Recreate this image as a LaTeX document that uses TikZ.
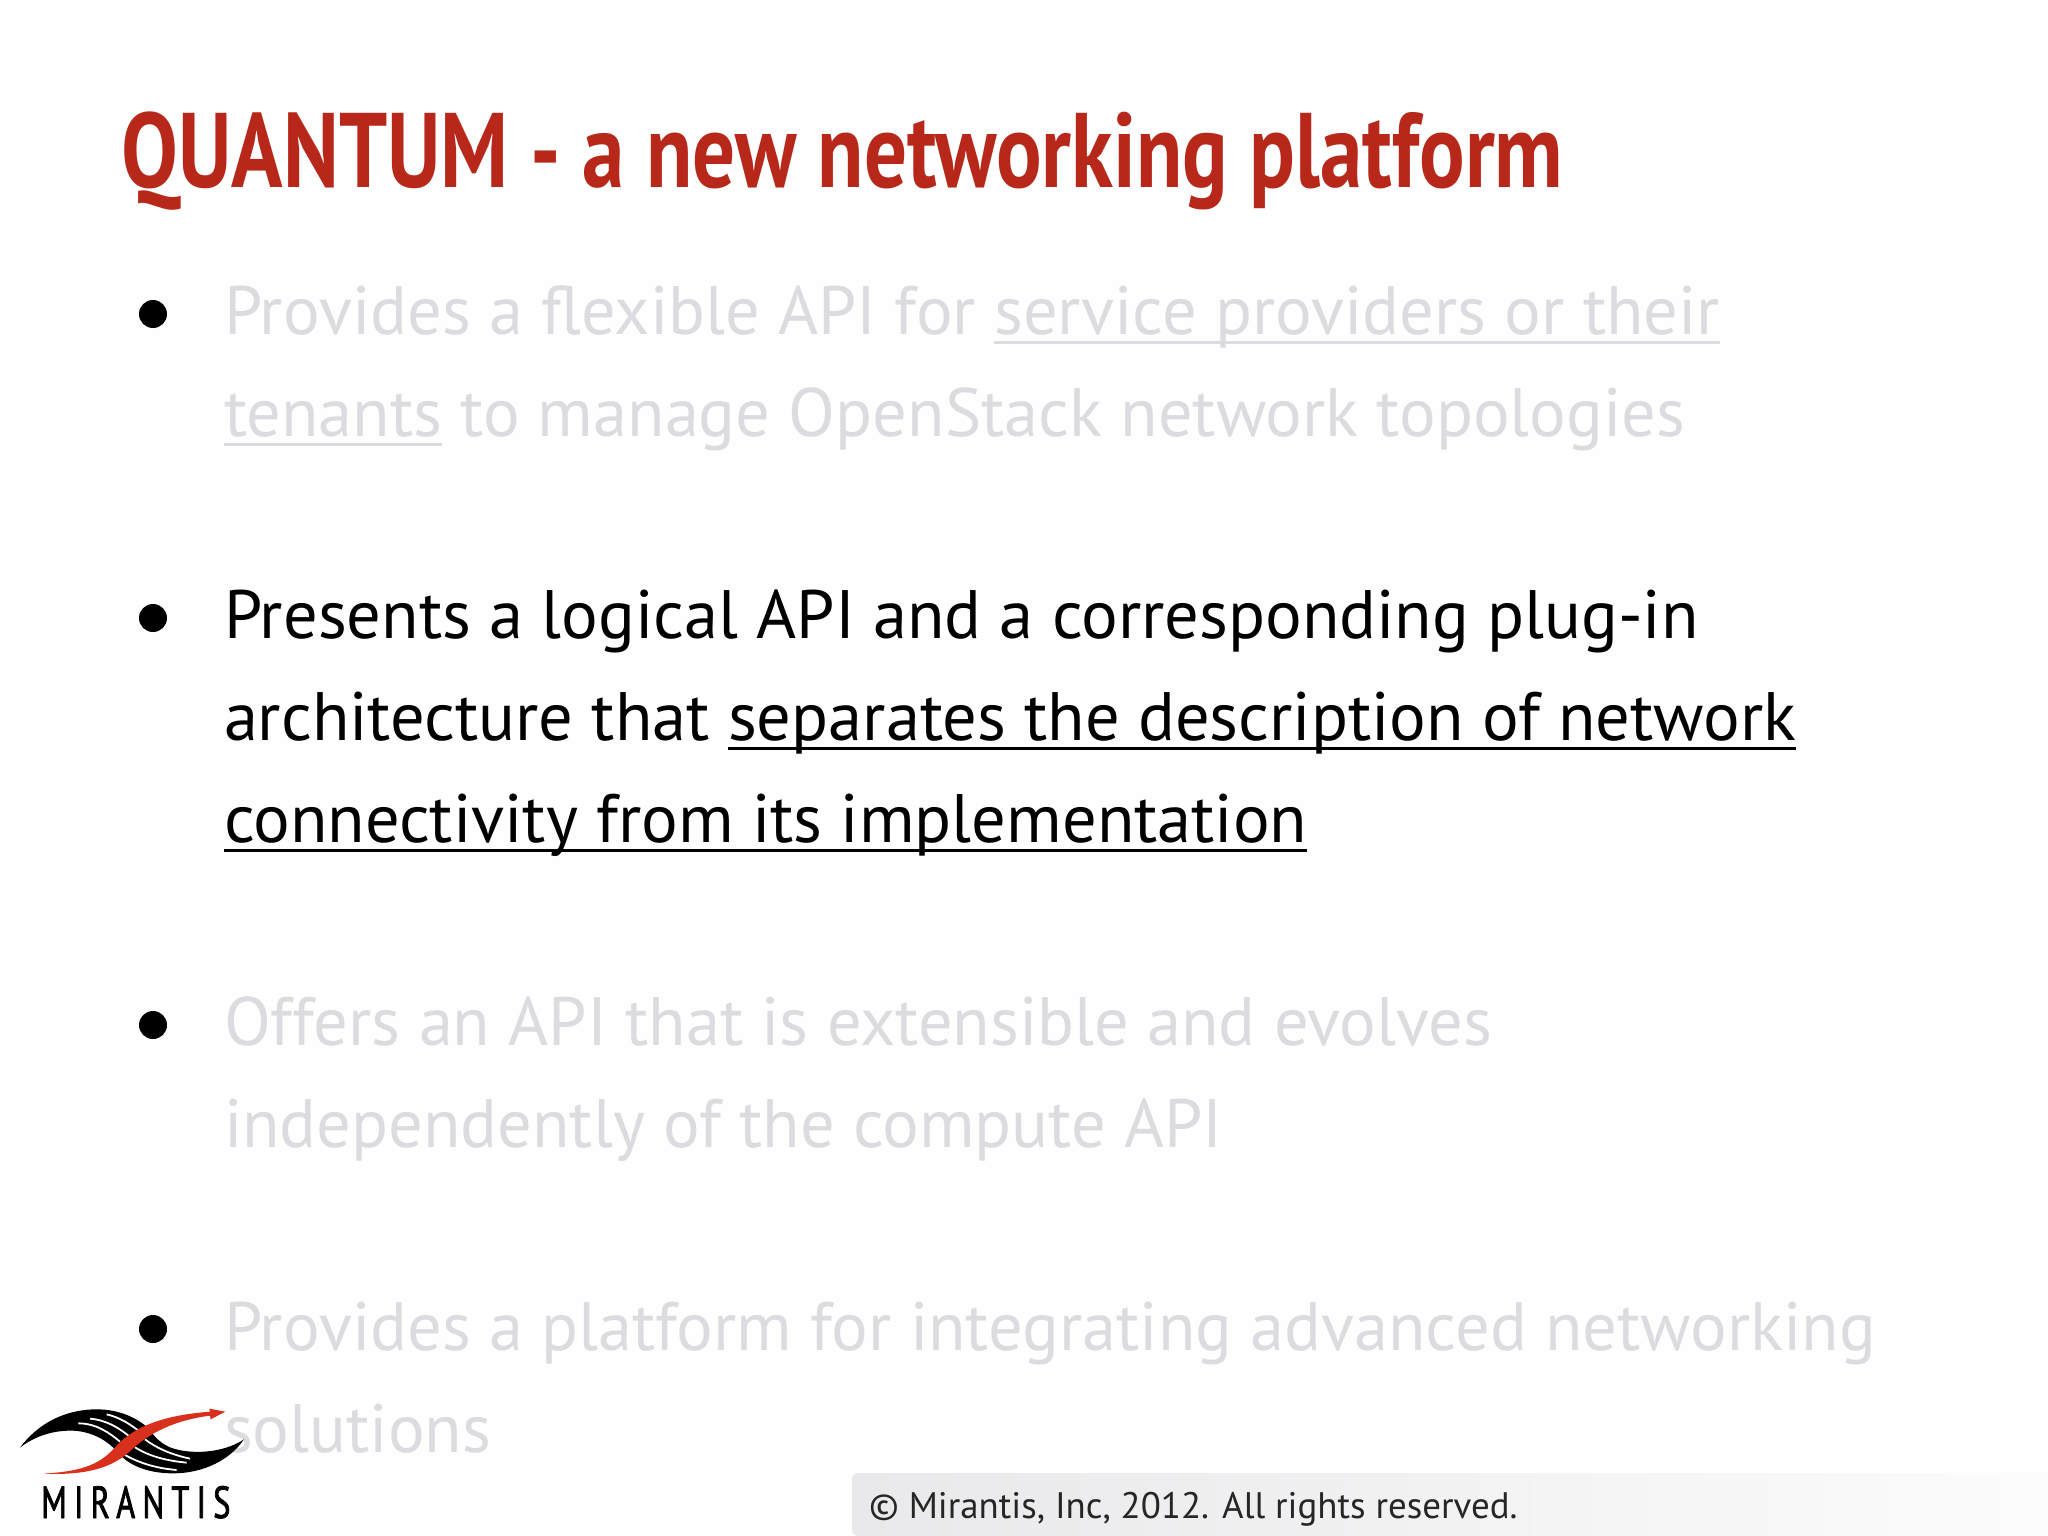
\documentclass[tikz,border=0pt]{standalone}
\usepackage{fontspec}
\setmainfont{PT Sans}
\newfontfamily\titlefont[FakeStretch=0.802]{PT Sans Bold}
\newfontfamily\logofont[FakeStretch=0.72,LetterSpace=16,FakeBold=1.6]{PT Sans}
\definecolor{titlered}{HTML}{B8281A}
\definecolor{fadedtext}{HTML}{DCDCE0}
\definecolor{logored}{HTML}{D8301C}
\definecolor{footgray}{HTML}{E9E8EA}
\newsavebox{\ulbox}
\newcommand{\ulx}[1]{\sbox{\ulbox}{#1}\rlap{\rule[-9.5pt]{\wd\ulbox}{2.6pt}}\usebox{\ulbox}}
\tikzset{
  line/.style={anchor=base west,inner sep=0pt,outer sep=0pt,font=\fontsize{68.5}{68.5}\selectfont},
  faded/.style={line,text=fadedtext},
  active/.style={line,text=black},
  bulletdot/.style={circle,fill=black,inner sep=0pt,minimum size=28pt},
}
\begin{document}
\begin{tikzpicture}[x=1pt,y=-1pt]
\useasboundingbox (0,0) rectangle (2048,1536);
\fill[white!99.5!gray] (0,0) rectangle (2048,1536);
\node[anchor=base west,inner sep=0pt,text=titlered,font=\titlefont\fontsize{106}{106}\selectfont] (title) at (121.5,187) {QUANTUM - a new networking platform};
\node[bulletdot] (b1) at (153,314) {};
\node[bulletdot] (b2) at (153,618) {};
\node[bulletdot] (b3) at (153,1025) {};
\node[bulletdot] (b4) at (153,1329) {};
\node[faded] (l1) at (224,334) {Provides a flexible API for \ulx{service providers or their}};
\node[faded] (l2) at (224,436) {\ulx{tenants} to manage OpenStack network topologies};
\node[active] (l3) at (224,638) {Presents a logical API and a corresponding plug-in};
\node[active] (l4) at (224,740) {architecture that \ulx{separates the description of network}};
\node[active] (l5) at (224,842) {\ulx{connectivity from its implementation}};
\node[faded] (l6) at (224,1045) {Offers an API that is extensible and evolves};
\node[faded] (l7) at (224,1147) {independently of the compute API};
\node[faded] (l8) at (224,1350) {Provides a platform for integrating advanced networking};
\node[faded] (l9) at (224,1452) {solutions};
% footer
\path[left color=footgray,right color=white!98!gray,rounded corners=6pt] (852,1536) -- (852,1473) -- (2060,1473) -- (2060,1536) -- cycle;
\node[anchor=base west,inner sep=0pt,font=\fontsize{36.9}{36.9}\selectfont,text=black!85] (copy) at (869,1518) {© Mirantis, Inc, 2012. All rights reserved.};
% logo, coordinates in zoom units
\begin{scope}[shift={(0,1360)},x=0.3333pt,y=-0.3333pt]
\fill[black] (60,263) .. controls (110,195) and (190,148) .. (290,148)
  .. controls (360,148) and (410,175) .. (440,200)
  .. controls (455,215) and (470,245) .. (510,262)
  .. controls (570,285) and (670,280) .. (732,238)
  .. controls (690,300) and (610,340) .. (520,340)
  .. controls (440,340) and (390,315) .. (360,285)
  .. controls (320,235) and (270,215) .. (220,212)
  .. controls (150,210) and (95,235) .. (60,263) -- cycle;
\draw[white,line width=1.8pt] (235,190) .. controls (290,190) and (330,220) .. (360,245);
\draw[white,line width=1.8pt] (270,176) .. controls (320,180) and (360,205) .. (395,235);
\draw[white,line width=1.8pt] (320,163) .. controls (360,172) and (395,195) .. (425,220);
\draw[white,line width=1.8pt] (375,285) .. controls (420,310) and (470,325) .. (530,330);
\draw[white,line width=1.8pt] (405,262) .. controls (450,290) and (500,302) .. (560,308);
\draw[white,line width=1.8pt] (435,238) .. controls (475,268) and (520,285) .. (570,296);
\draw[white,line width=3pt] (355,290) .. controls (385,235) and (460,180) .. (630,162);
\fill[logored] (130,341) .. controls (230,335) and (295,320) .. (345,262)
  .. controls (405,195) and (500,165) .. (630,155)
  -- (628,146) -- (676,155) -- (632,178) -- (630,167)
  .. controls (525,180) and (445,220) .. (392,272)
  .. controls (325,335) and (230,345) .. (130,341) -- cycle;
\end{scope}
\node[anchor=base west,inner sep=0pt,font=\logofont\fontsize{45}{45}\selectfont,text=black] (logo) at (41,1518) {MIRANTIS};
\end{tikzpicture}
\end{document}
